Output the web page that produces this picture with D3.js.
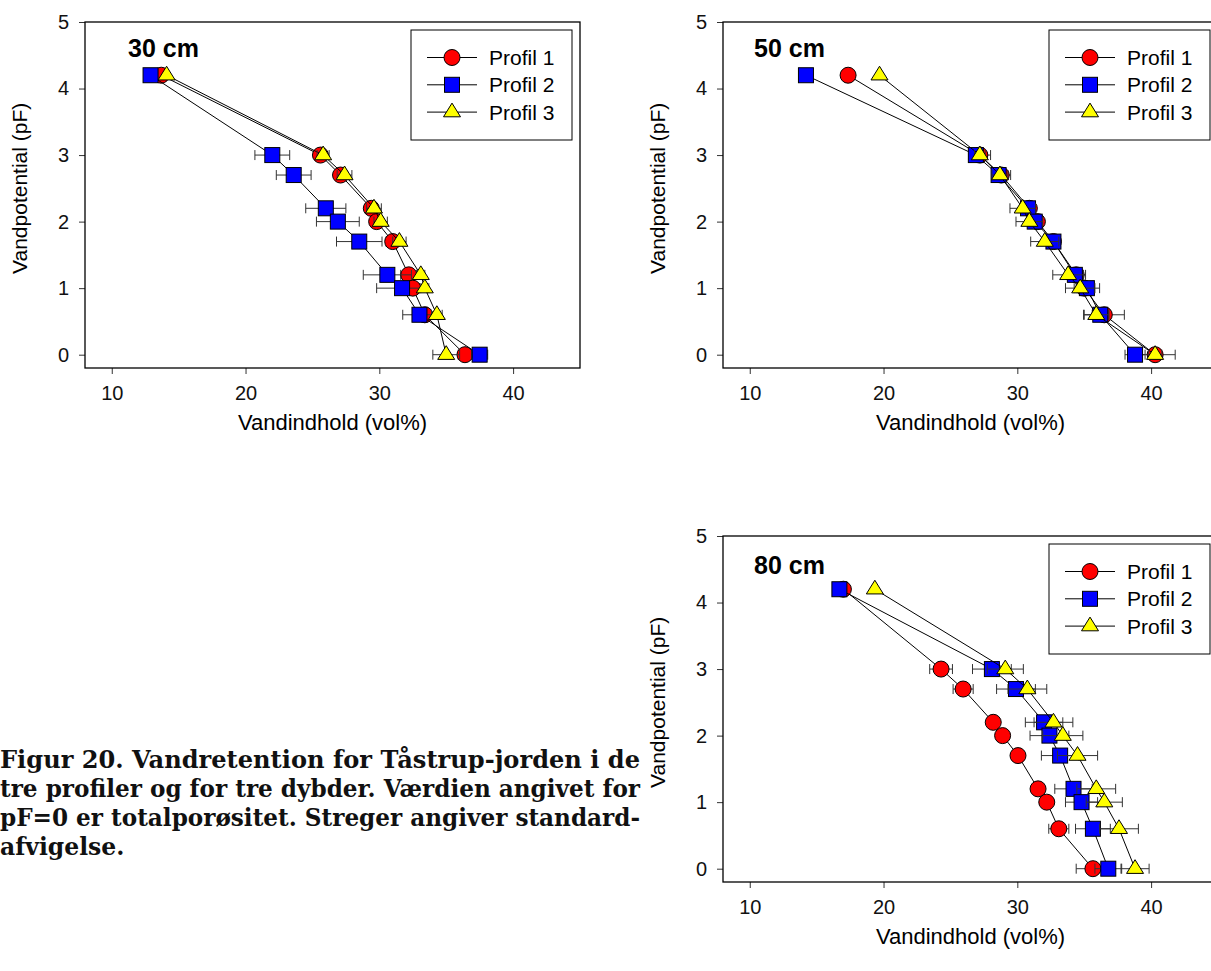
<!DOCTYPE html>
<html>
<head>
<meta charset="utf-8">
<script src="https://cdn.jsdelivr.net/npm/d3@7"></script>
<style>
  body { margin: 0; background: #fff; }
  svg { display: block; }
</style>
</head>
<body>
<svg id="chart" width="1211" height="971" viewBox="0 0 1211 971"></svg>
<script>
// pF levels (same for every profile and depth)
const pfLevels = [4.2, 3.0, 2.7, 2.2, 2.0, 1.7, 1.2, 1.0, 0.6, 0.0];
const profiles = ["Profil 1", "Profil 2", "Profil 3"];
const depths = ["30 cm", "50 cm", "80 cm"];
const xTicks = [10, 20, 30, 40];
const yTicks = [0, 1, 2, 3, 4, 5];

// water content (vol%) and standard deviation
const theta30p1 = [13.7, 25.6, 27.1, 29.4, 29.8, 31.0, 32.2, 32.5, 33.4, 36.4];
const sd30p1    = [0, 0.3, 0.3, 0.45, 0.4, 0.5, 0.6, 0.5, 0.4, 0.5];
const theta30p2 = [12.9, 22.0, 23.6, 26.0, 26.9, 28.5, 30.6, 31.7, 33.0, 37.5];
const sd30p2    = [0, 1.3, 1.3, 1.5, 1.6, 1.7, 1.8, 1.9, 1.25, 0.6];
const theta30p3 = [14.1, 25.8, 27.4, 29.6, 30.1, 31.5, 33.1, 33.4, 34.3, 35.0];
const sd30p3    = [0, 0.45, 0.55, 0.55, 0.5, 0.5, 0.3, 0.3, 0.4, 1.0];

const theta50p1 = [17.35, 27.2, 28.8, 30.9, 31.5, 32.7, 34.4, 35.0, 36.5, 40.3];
const sd50p1    = [0, 0.8, 0.7, 0.4, 0.4, 0.5, 0.7, 0.6, 1.5, 1.5];
const theta50p2 = [14.2, 26.9, 28.6, 30.8, 31.3, 32.7, 34.3, 35.2, 36.2, 38.8];
const sd50p2    = [0, 0.5, 0.5, 0.4, 0.4, 0.4, 0.6, 0.95, 0.6, 0.75];
const theta50p3 = [19.7, 27.2, 28.7, 30.4, 30.9, 32.05, 33.8, 34.7, 35.9, 40.3];
const sd50p3    = [0, 0.4, 0.6, 0.95, 1.0, 1.05, 1.15, 1.1, 0.95, 0.5];

const theta80p1 = [17.0, 24.3, 25.95, 28.2, 28.9, 30.05, 31.55, 32.2, 33.1, 35.65];
const sd80p1    = [0, 0.85, 0.75, 0.3, 0.2, 0.2, 0.2, 0.2, 0.75, 1.25];
const theta80p2 = [16.7, 28.1, 29.9, 32.0, 32.4, 33.2, 34.2, 34.8, 35.65, 36.8];
const sd80p2    = [0, 1.45, 1.45, 1.4, 1.45, 1.4, 1.4, 1.2, 1.3, 1.0];
const theta80p3 = [19.35, 29.1, 30.75, 32.7, 33.4, 34.5, 35.9, 36.5, 37.6, 38.8];
const sd80p3    = [0, 1.35, 1.45, 1.45, 1.5, 1.5, 1.45, 1.35, 1.45, 1.05];

const captionLines = [
  "Figur 20. Vandretention for Tåstrup-jorden i de",
  "tre profiler og for tre dybder. Værdien angivet for",
  "pF=0 er totalporøsitet. Streger angiver standard-",
  "afvigelse."
];

const svg = d3.select("#chart");
const font = "'Liberation Sans', Arial, Helvetica, sans-serif";
const fills = ["#ff0000", "#0000ff", "#ffff00"];

// layout of the three panels
const panels = [
  { label: depths[0], left: 85, top: 22, labelDx: 43, labelDy: 35,
    data: [[theta30p1, sd30p1], [theta30p2, sd30p2], [theta30p3, sd30p3]] },
  { label: depths[1], left: 723, top: 22, labelDx: 31, labelDy: 35,
    data: [[theta50p1, sd50p1], [theta50p2, sd50p2], [theta50p3, sd50p3]] },
  { label: depths[2], left: 723, top: 536, labelDx: 31, labelDy: 38,
    data: [[theta80p1, sd80p1], [theta80p2, sd80p2], [theta80p3, sd80p3]] }
];
const plotW = 495, plotH = 346;

function marker(g, i, cx, cy) {
  if (i === 0) {
    g.append("circle").attr("cx", cx).attr("cy", cy).attr("r", 8)
      .attr("fill", fills[0]).attr("stroke", "#000").attr("stroke-width", 1);
  } else if (i === 1) {
    g.append("rect").attr("x", cx - 7.5).attr("y", cy - 7.5)
      .attr("width", 15).attr("height", 15)
      .attr("fill", fills[1]).attr("stroke", "#000").attr("stroke-width", 1);
  } else {
    g.append("path")
      .attr("d", `M${cx},${cy - 9}L${cx + 8.5},${cy + 4.7}L${cx - 8.5},${cy + 4.7}Z`)
      .attr("fill", fills[2]).attr("stroke", "#000").attr("stroke-width", 1);
  }
}

panels.forEach(p => {
  const x = d3.scaleLinear().domain([8, 45]).range([p.left, p.left + plotW]);
  const y = d3.scaleLinear().domain([-0.2, 5]).range([p.top + plotH, p.top]);
  const g = svg.append("g");

  // axes
  const xAxis = g.append("g")
    .attr("transform", `translate(0,${p.top + plotH})`)
    .call(d3.axisBottom(x).tickValues(xTicks).tickFormat(d3.format("d"))
      .tickSize(6).tickPadding(12));
  const yAxis = g.append("g")
    .attr("transform", `translate(${p.left},0)`)
    .call(d3.axisLeft(y).tickValues(yTicks).tickFormat(d3.format("d"))
      .tickSize(6).tickPadding(10));
  [xAxis, yAxis].forEach(a => {
    a.select(".domain").remove();
    a.selectAll("line").attr("stroke", "#333");
    a.selectAll("text").attr("font-family", font).attr("font-size", 20).attr("fill", "#111");
  });

  g.append("rect")
    .attr("x", p.left).attr("y", p.top).attr("width", plotW).attr("height", plotH)
    .attr("fill", "none").attr("stroke", "#000").attr("stroke-width", 1.3);

  // axis titles
  g.append("text")
    .attr("x", (p.left + p.left + plotW) / 2).attr("y", p.top + plotH + 62)
    .attr("text-anchor", "middle")
    .attr("font-family", font).attr("font-size", 22)
    .text("Vandindhold (vol%)");
  g.append("text")
    .attr("transform", `translate(${p.left - 65},${y(2.5)}) rotate(-90)`)
    .attr("text-anchor", "middle").attr("dy", "0.35em")
    .attr("font-family", font).attr("font-size", 21)
    .text("Vandpotential (pF)");

  // series
  p.data.forEach(([theta, sd], i) => {
    const pts = pfLevels.map((pf, k) => ({ v: theta[k], s: sd[k], pf }));
    const sg = g.append("g");
    sg.append("path")
      .attr("d", d3.line().x(d => x(d.v)).y(d => y(d.pf))(pts))
      .attr("fill", "none").attr("stroke", "#000").attr("stroke-width", 1);
    pts.filter(d => d.s > 0).forEach(d => {
      const cy = y(d.pf), x0 = x(d.v - d.s), x1 = x(d.v + d.s);
      sg.append("path")
        .attr("d", `M${x0},${cy}H${x1}M${x0},${cy - 5}V${cy + 5}M${x1},${cy - 5}V${cy + 5}`)
        .attr("fill", "none").attr("stroke", "#333").attr("stroke-width", 1);
    });
    pts.forEach(d => marker(sg, i, x(d.v), y(d.pf)));
  });

  // depth label
  g.append("text")
    .attr("x", p.left + p.labelDx).attr("y", p.top + p.labelDy)
    .attr("font-family", font).attr("font-size", 25).attr("font-weight", "bold")
    .text(p.label);

  // legend
  const lx = p.left + plotW - 169, ly = p.top + 8;
  const lg = g.append("g");
  lg.append("rect").attr("x", lx).attr("y", ly).attr("width", 161).attr("height", 110)
    .attr("fill", "#fff").attr("stroke", "#000").attr("stroke-width", 1);
  profiles.forEach((name, i) => {
    const ry = ly + 27.5 + i * 27.3;
    lg.append("line").attr("x1", lx + 16).attr("x2", lx + 66)
      .attr("y1", ry).attr("y2", ry).attr("stroke", "#000").attr("stroke-width", 1);
    marker(lg, i, lx + 41, ry);
    lg.append("text").attr("x", lx + 78).attr("y", ry).attr("dy", "0.36em")
      .attr("font-family", font).attr("font-size", 21).text(name);
  });
});

// caption, justified lines like the printed figure text
const capWidth = 640;
const cap = svg.append("g")
  .attr("font-family", "'DejaVu Serif', 'Liberation Serif', serif")
  .attr("font-weight", "bold").attr("font-size", 24).attr("fill", "#111");
const capTexts = captionLines.map((line, i) =>
  cap.append("text").attr("x", 0).attr("y", 768 + i * 29).text(line));
const ratios = capTexts.slice(0, 3).map(t => capWidth / t.node().getComputedTextLength());
const avgRatio = d3.mean(ratios);
capTexts.forEach((t, i) => {
  const len = i < 3 ? capWidth : t.node().getComputedTextLength() * avgRatio;
  t.attr("textLength", len).attr("lengthAdjust", "spacingAndGlyphs");
});
</script>
</body>
</html>
